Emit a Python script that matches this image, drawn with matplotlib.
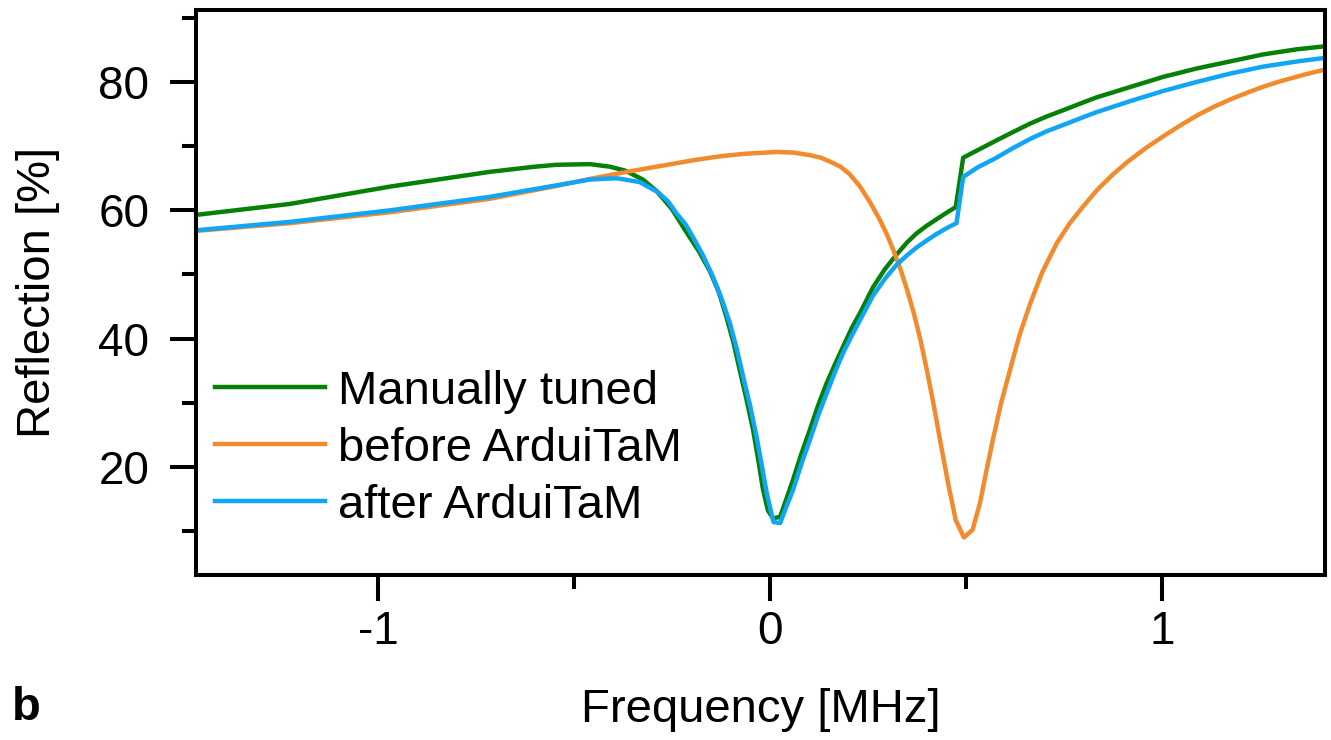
import matplotlib
matplotlib.use("Agg")
import matplotlib.pyplot as plt
from matplotlib.ticker import MultipleLocator

plt.rcParams['font.family'] = ['Liberation Sans', 'DejaVu Sans']
plt.rcParams['axes.unicode_minus'] = False

# ---- data ----
x_manual = [-1.462, -1.224, -0.969, -0.714, -0.600, -0.544, -0.459, -0.408, -0.370, -0.324,
            -0.289, -0.250, -0.212, -0.180, -0.153, -0.130, -0.111, -0.093, -0.077, -0.060,
            -0.043, -0.030, -0.018, -0.005, 0.008, 0.026, 0.042, 0.059, 0.080, 0.102,
            0.123, 0.145, 0.166, 0.187, 0.210, 0.230, 0.263, 0.293, 0.323, 0.350,
            0.374, 0.400, 0.425, 0.450, 0.474, 0.493, 0.518, 0.578, 0.620, 0.663,
            0.705, 0.748, 0.790, 0.833, 0.918, 1.003, 1.088, 1.173, 1.258, 1.344, 1.42]
y_manual = [59.3, 61.0, 63.7, 66.0, 66.8, 67.1, 67.2, 66.8, 66.2, 64.8,
            63.0, 60.2, 56.5, 53.5, 50.5, 47.2, 43.4, 39.4, 35.1, 30.6,
            25.8, 21.2, 16.6, 13.2, 12.0, 12.2, 15.0, 18.0, 22.0, 25.8,
            29.6, 33.1, 36.0, 38.8, 41.8, 44.0, 48.0, 50.8, 53.1, 55.0,
            56.4, 57.6, 58.6, 59.6, 60.5, 68.2, 69.0, 70.9, 72.2, 73.5,
            74.6, 75.6, 76.6, 77.6, 79.2, 80.8, 82.1, 83.2, 84.3, 85.1, 85.6]

x_before = [-1.462, -1.224, -0.969, -0.714, -0.544, -0.459, -0.365, -0.280, -0.196, -0.130,
            -0.068, 0.017, 0.060, 0.102, 0.130, 0.153, 0.180, 0.204, 0.230, 0.255,
            0.278, 0.298, 0.315, 0.332, 0.350, 0.366, 0.384, 0.401, 0.418, 0.434,
            0.455, 0.474, 0.495, 0.517, 0.536, 0.552, 0.569, 0.590, 0.612, 0.637,
            0.663, 0.695, 0.732, 0.765, 0.799, 0.835, 0.875, 0.915, 0.961, 1.000,
            1.046, 1.090, 1.131, 1.175, 1.216, 1.260, 1.301, 1.360, 1.42]
y_before = [56.8, 58.0, 59.7, 61.8, 63.8, 64.9, 66.0, 66.9, 67.8, 68.4,
            68.8, 69.1, 69.0, 68.6, 68.2, 67.6, 66.8, 65.6, 63.7, 61.3,
            58.8, 56.3, 53.8, 51.0, 47.6, 44.2, 39.8, 34.9, 29.6, 24.2,
            17.3, 11.7, 9.0, 10.2, 14.4, 19.3, 24.3, 30.0, 35.0, 40.6,
            45.3, 50.4, 54.9, 58.0, 60.6, 63.2, 65.6, 67.7, 69.8, 71.4,
            73.2, 74.8, 76.1, 77.3, 78.3, 79.3, 80.1, 81.1, 82.0]

x_after = [-1.462, -1.224, -0.969, -0.714, -0.544, -0.459, -0.391, -0.332, -0.285, -0.260,
           -0.238, -0.215, -0.196, -0.170, -0.145, -0.123, -0.102, -0.085, -0.068, -0.050,
           -0.034, -0.020, -0.008, 0.009, 0.026, 0.042, 0.059, 0.080, 0.102, 0.123,
           0.145, 0.166, 0.187, 0.210, 0.230, 0.263, 0.293, 0.323, 0.350, 0.374,
           0.400, 0.425, 0.450, 0.476, 0.493, 0.530, 0.578, 0.620, 0.663, 0.705,
           0.748, 0.790, 0.833, 0.918, 1.003, 1.088, 1.173, 1.258, 1.344, 1.42]
y_after = [56.9, 58.2, 60.0, 62.1, 63.9, 64.8, 65.0, 64.4, 62.8, 61.4,
           59.5, 57.8, 55.8, 52.9, 49.6, 46.2, 42.4, 38.5, 34.0, 29.4,
           24.7, 20.0, 15.9, 11.4, 11.25, 13.8, 16.4, 20.4, 24.2, 28.0,
           31.5, 34.8, 37.8, 40.6, 42.9, 46.7, 49.3, 51.5, 53.0, 54.2,
           55.3, 56.3, 57.2, 58.0, 65.2, 66.7, 68.2, 69.7, 71.1, 72.3,
           73.3, 74.3, 75.3, 77.0, 78.6, 80.0, 81.3, 82.4, 83.2, 83.8]

labels = ["Manually tuned", "before ArduiTaM", "after ArduiTaM"]
colors = ["#078007", "#F28A2E", "#10A5F5"]

fs = 33
fs_lab = 34
fig = plt.figure(figsize=(13.31, 7.40), dpi=100)
ax = fig.add_axes([196/1331, 1 - 575/740, (1325-196)/1331, (575-10.5)/740])

ax.plot(x_manual, y_manual, color=colors[0], lw=3.2, label=labels[0], solid_joinstyle='round')
ax.plot(x_before, y_before, color=colors[1], lw=3.2, label=labels[1], solid_joinstyle='round')
ax.plot(x_after, y_after, color=colors[2], lw=3.2, label=labels[2], solid_joinstyle='round')

ax.set_xlim(-1.464, 1.416)
ax.set_ylim(3.15, 91.15)

ax.xaxis.set_major_locator(MultipleLocator(1))
ax.xaxis.set_minor_locator(MultipleLocator(0.5))
ax.yaxis.set_major_locator(MultipleLocator(20))
ax.yaxis.set_minor_locator(MultipleLocator(10))
ax.set_yticks([20, 40, 60, 80])
ax.set_xticks([-1, 0, 1])
ax.set_xticklabels(["-1", "0", "1"])

for s in ax.spines.values():
    s.set_linewidth(2.9)
ax.tick_params(which='major', direction='out', length=18.5, width=2.9, labelsize=fs)
ax.tick_params(which='minor', direction='out', length=10, width=2.9)
ax.tick_params(axis='y', which='major', pad=15)
ax.tick_params(axis='x', which='major', pad=7)

ax.set_xlabel("Frequency [MHz]", fontsize=fs_lab, labelpad=24)
ax.set_ylabel("Reflection [%]", fontsize=fs_lab, labelpad=28)

leg = ax.legend(loc='upper left', bbox_to_anchor=(0.004, 0.389), frameon=False, fontsize=fs_lab,
                handlelength=2.33, handletextpad=0.28, labelspacing=0.28, borderaxespad=0.0,
                borderpad=0.3)
for h in leg.get_lines():
    h.set_linewidth(3.2)

fig.text(12/1331, 1 - 720/740, "b", fontsize=fs_lab, fontweight='bold', va='baseline', ha='left')

fig.savefig("out.png", dpi=100)
